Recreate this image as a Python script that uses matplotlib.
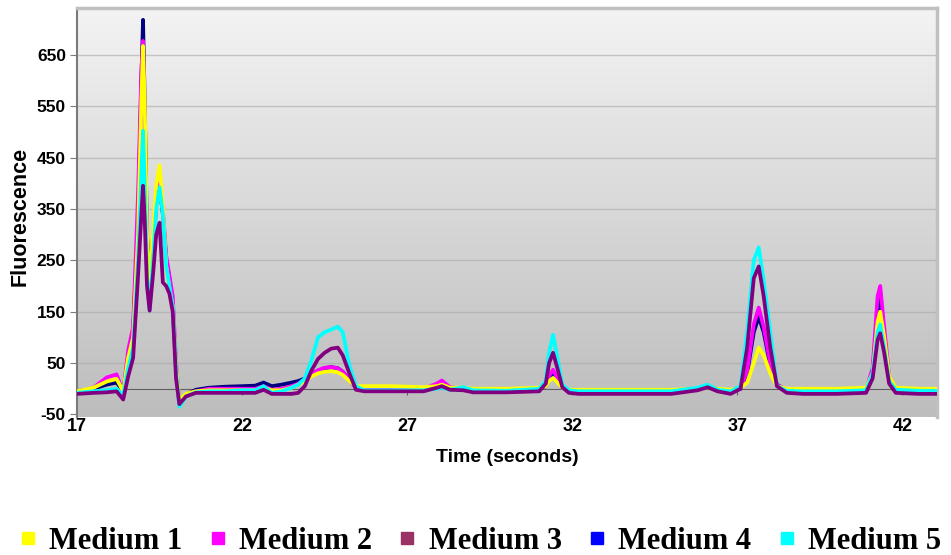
import numpy as np
import matplotlib
matplotlib.use('Agg')
import matplotlib.pyplot as plt
from matplotlib.lines import Line2D

# time axis shared by all media (seconds)
t = [17.0, 17.5, 17.9, 18.2, 18.4, 18.55, 18.7, 18.85, 18.95, 19.0, 19.05, 19.12, 19.2, 19.3,
     19.4, 19.5, 19.6, 19.7, 19.8, 19.9, 20.0, 20.1, 20.3, 20.6, 21.0, 21.5, 22.0, 22.4, 22.65,
     22.9, 23.2, 23.5, 23.7, 23.9, 24.1, 24.3, 24.5, 24.7, 24.9, 25.05, 25.25, 25.45, 25.7, 26.5,
     27.5, 27.9, 28.05, 28.3, 28.7, 29.0, 30.0, 31.0, 31.2, 31.3, 31.42, 31.55, 31.7, 31.9, 32.2,
     33.0, 35.0, 35.8, 36.1, 36.4, 36.8, 37.1, 37.3, 37.5, 37.65, 37.8, 38.0, 38.2, 38.5, 39.0,
     40.0, 40.9, 41.1, 41.25, 41.33, 41.45, 41.6, 41.8, 42.5, 43.05]

medium1 = [-5, 2, 14, 19, -5, 60, 100, 300, 560, 667, 560, 300, 200, 300,
           395, 435, 356, 239, 194, 160, 45, -22, -10, -5, -3, -3, -3, -3, 2,
           -3, -3, 2, 8, 15, 24, 30, 33, 34, 32, 27, 15, 5, 5, 5,
           3, 5, 8, 2, 2, 0, 0, 2, 5, 15, 21, 12, 2, -2, -2,
           -2, -2, 0, 3, 0, -2, 2, 12, 50, 80, 65, 30, 5, 0, 0,
           0, 2, 30, 130, 150, 100, 25, 2, 0, 0]
medium2 = [-8, 2, 22, 28, -8, 75, 120, 380, 620, 677, 520, 280, 208, 290,
           370, 400, 350, 260, 220, 180, 50, -25, -12, -5, 0, 0, 0, 0, 5,
           -2, 0, 5, 10, 18, 28, 36, 41, 42, 40, 33, 18, 2, -2, 0,
           0, 10, 16, 3, 0, -3, -3, 0, 6, 25, 37, 20, 2, -3, -4,
           -5, -5, 0, 5, -2, -5, 0, 35, 125, 158, 120, 50, 8, -3, -3,
           -3, -2, 40, 180, 200, 120, 25, 0, -3, -3]
medium3 = [-10, -8, -7, -5, -21, 24, 60, 220, 340, 395, 330, 200, 152, 220,
           300, 323, 207, 200, 185, 150, 20, -30, -15, -8, -8, -8, -8, -8, -2,
           -10, -10, -10, -8, 5, 35, 58, 70, 78, 80, 65, 30, -2, -5, -5,
           -5, 2, 5, -2, -3, -7, -7, -5, 10, 50, 70, 40, 3, -8, -10,
           -10, -10, -3, 3, -5, -10, 0, 80, 215, 238, 180, 80, 5, -8, -10,
           -10, -8, 20, 95, 108, 70, 10, -8, -10, -10]
medium4 = [-5, 0, 8, 12, -5, 60, 110, 330, 600, 718, 560, 300, 207, 260,
           360, 395, 340, 250, 215, 160, 40, -28, -12, -2, 2, 4, 5, 6, 12,
           5, 8, 12, 15, 20, 28, 35, 40, 42, 40, 33, 18, 2, -2, 0,
           0, 4, 8, 0, 0, -3, -3, 0, 5, 18, 27, 15, 2, -3, -4,
           -5, -5, 0, 5, -2, -5, 0, 30, 110, 140, 110, 45, 8, -3, -4,
           -4, -2, 30, 150, 175, 100, 20, 0, -3, -3]
medium5 = [-8, -5, -3, 0, -12, 40, 80, 250, 420, 502, 400, 220, 152, 250,
           350, 392, 340, 240, 200, 160, 35, -35, -15, -7, -5, -5, -3, -3, 5,
           -8, -5, 2, 8, 20, 55, 100, 110, 115, 121, 110, 45, 5, -3, -3,
           -3, 0, 2, -2, 3, -3, -4, 0, 15, 70, 105, 60, 8, -3, -5,
           -5, -5, 2, 8, -2, -5, 5, 110, 250, 275, 210, 110, 5, -4, -5,
           -5, -3, 30, 110, 125, 80, 15, -2, -4, -4]

labels = ['Medium 1', 'Medium 2', 'Medium 3', 'Medium 4', 'Medium 5']
line_colors = ['#ffff00', '#ff00ff', '#800080', '#000080', '#00ffff']
key_colors = ['#ffff00', '#ff00ff', '#993366', '#0000ff', '#00ffff']
series = [medium1, medium2, medium3, medium4, medium5]
zorders = [4, 3, 6, 2, 5]

xticks = [17, 22, 27, 32, 37, 42]
yticks = [-50, 50, 150, 250, 350, 450, 550, 650]

sans = 'Liberation Sans'
serif = 'Liberation Serif'

fig = plt.figure(figsize=(9.51, 5.55), dpi=100)
ax = fig.add_axes([77/951, 1 - 417/555, 860/951, 409/555])
ax.set_xlim(17, 43.05)
ax.set_ylim(-55, 741)

# gradient background
grad = np.linspace(0, 1, 256).reshape(-1, 1)
cmap = matplotlib.colors.LinearSegmentedColormap.from_list('bg', ['#bdbdbd', '#f3f3f3'])
ax.imshow(grad, extent=[0, 1, 0, 1], transform=ax.transAxes, aspect='auto',
          cmap=cmap, origin='lower', zorder=0)

for yv in yticks[1:]:
    ax.axhline(yv, color='#a8a8a8', lw=1, alpha=0.6, zorder=1)

for s, c, z in zip(series, line_colors, zorders):
    ax.plot(t, s, color=c, lw=2.7, zorder=z, solid_joinstyle='round')

# x axis crosses at zero, labels sit low
ax.spines['bottom'].set_position(('data', 0))
ax.spines['bottom'].set_color('#606060')
ax.spines['bottom'].set_zorder(1.5)
ax.spines['left'].set_color('#7a7a7a')
ax.spines['left'].set_linewidth(1.5)
ax.spines['top'].set_color('#c0c0c0')
ax.spines['top'].set_linewidth(2.5)
ax.spines['right'].set_color('#c0c0c0')
ax.spines['right'].set_linewidth(2.5)
ax.set_xticks(xticks)
ax.set_xticklabels([])
ax.tick_params(axis='x', direction='out', length=4, color='#606060')
ax.set_yticks(yticks)
ax.set_yticklabels([str(v) for v in yticks], fontfamily=sans, fontweight='bold', fontsize=12.5)
ax.tick_params(axis='y', direction='out', length=5, color='#7a7a7a', pad=3)

sec = ax.secondary_xaxis('bottom')
sec.set_xticks(xticks)
sec.set_xticklabels([str(v) for v in xticks], fontfamily=sans, fontweight='bold', fontsize=13)
sec.tick_params(length=0, pad=1)
sec.spines['bottom'].set_visible(False)

fig.text(20/951, 1 - 216/555, 'Fluorescence', rotation=90, ha='center', va='center',
         fontfamily=sans, fontweight='bold', fontsize=15.5)
fig.text(507/951, 1 - 458/555, 'Time (seconds)', ha='center', va='center',
         fontfamily=sans, fontweight='bold', fontsize=14)

handles = [Line2D([], [], ls='none', marker='s', markersize=8.5, color=c, markeredgecolor=c)
           for c in key_colors]
fig.legend(handles, labels, loc='lower center', bbox_to_anchor=(480/951, -0.024), ncol=5,
           frameon=False, handlelength=0.6, handletextpad=0.4, columnspacing=0.85,
           borderaxespad=0, prop={'family': serif, 'weight': 'bold', 'size': 22})

plt.savefig('out.png', dpi=100)
